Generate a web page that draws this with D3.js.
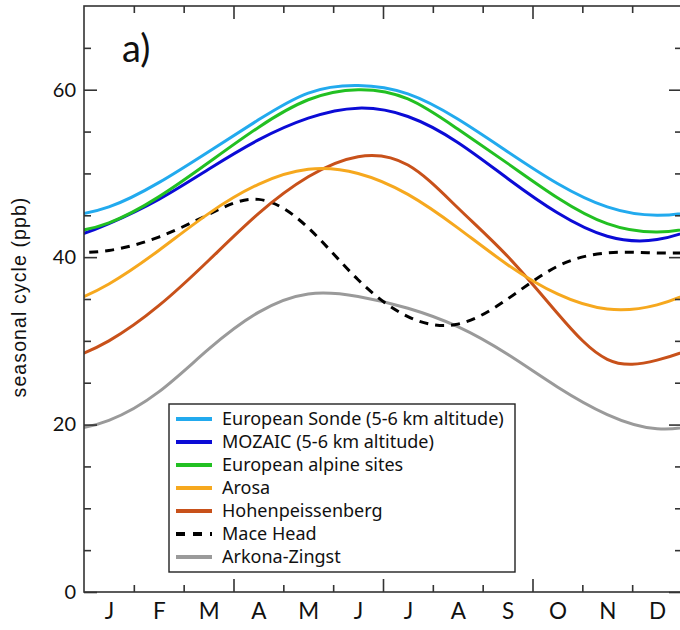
<!DOCTYPE html>
<html><head><meta charset="utf-8">
<script src="https://cdn.jsdelivr.net/npm/d3@7"></script>
<style>body{margin:0;background:#fff}svg{display:block}</style>
</head><body>
<svg id="c" width="680" height="630"></svg>
<script>
const months = ["J","F","M","A","M","J","J","A","S","O","N","D"];
const seriesNames = ["European Sonde (5-6 km altitude)","MOZAIC (5-6 km altitude)","European alpine sites","Arosa","Hohenpeissenberg","Mace Head","Arkona-Zingst"];
const sonde  = [46.0, 48.9, 52.6, 56.4, 59.6, 60.5, 59.5, 56.5, 52.6, 48.8, 46.0, 45.0];
const mozaic = [44.0, 46.9, 50.5, 54.0, 56.6, 57.8, 56.8, 53.7, 49.4, 45.3, 42.5, 42.1];
const alpine = [44.1, 47.2, 51.3, 55.5, 58.8, 60.0, 58.9, 55.3, 51.2, 47.1, 44.0, 43.0];
const arosa  = [36.8, 40.8, 45.2, 48.7, 50.5, 50.0, 47.5, 43.5, 39.1, 35.6, 33.8, 34.3];
const hohen  = [30.0, 34.2, 39.6, 45.2, 49.6, 52.0, 51.0, 45.9, 40.1, 33.3, 27.8, 27.7];
const mace   = [40.8, 42.4, 45.1, 46.9, 43.5, 37.3, 32.9, 32.0, 35.0, 38.9, 40.5, 40.5];
const arkona = [20.5, 23.9, 29.0, 33.4, 35.6, 35.3, 33.9, 31.7, 28.4, 24.5, 21.2, 19.5];
const yMajor = [0, 20, 40, 60];
const yMinor = [5, 10, 15, 25, 30, 35, 45, 50, 55, 65];
const xMajor = [3, 6, 9];
const xMinor = [1, 2, 4, 5, 7, 8, 10, 11];

const colors = ["#22aaee", "#0b0bd6", "#22c022", "#f6a81e", "#c8511a", "#000000", "#9a9a9a"];
const data = [sonde, mozaic, alpine, arosa, hohen, mace, arkona];

const svg = d3.select("#c");
const L = 84, R = 682, T = 6, B = 592;
const x = d3.scaleLinear().domain([0, 12]).range([L, R]);
const y = d3.scaleLinear().domain([0, 70]).range([B, T]);
const font = "Lato, 'Noto Sans', sans-serif";
const lfont = "'Noto Sans', Lato, sans-serif";

svg.append("defs").append("clipPath").attr("id", "clip")
  .append("rect").attr("x", L).attr("y", T).attr("width", R - L).attr("height", B - T);

// curves
const line = d3.line().x(d => x(d[0])).y(d => y(d[1])).curve(d3.curveNatural);
const order = [6, 5, 4, 3, 1, 2, 0];
const gL = svg.append("g").attr("clip-path", "url(#clip)");
order.forEach(k => {
  const vals = data[k];
  const pts = d3.range(-2, 14).map(i => [i + 0.5, vals[(i + 12) % 12]]);
  gL.append("path").attr("d", line(pts)).attr("fill", "none")
    .attr("stroke", colors[k]).attr("stroke-width", 3)
    .attr("stroke-dasharray", k === 5 ? "9,7" : null);
});

// frame
svg.append("rect").attr("x", L).attr("y", T).attr("width", R - L).attr("height", B - T)
  .attr("fill", "none").attr("stroke", "#333").attr("stroke-width", 1.6);

function styleAxis(g) {
  g.select(".domain").remove();
  g.selectAll(".tick line").attr("stroke", "#333").attr("stroke-width", 1.6);
  g.selectAll("text").attr("font-family", font).attr("fill", "#111");
}
// y axes
svg.append("g").attr("transform", `translate(${L},0)`)
  .call(d3.axisLeft(y).tickValues(yMajor).tickSize(-13).tickPadding(8).tickFormat(d3.format("d")))
  .call(styleAxis).selectAll("text").attr("font-size", 20);
svg.append("g").attr("transform", `translate(${L},0)`)
  .call(d3.axisLeft(y).tickValues(yMinor).tickSize(-7).tickFormat(""))
  .call(styleAxis);
svg.append("g").attr("transform", `translate(${R},0)`)
  .call(d3.axisRight(y).tickValues(yMajor).tickSize(-13).tickFormat(""))
  .call(styleAxis);
svg.append("g").attr("transform", `translate(${R},0)`)
  .call(d3.axisRight(y).tickValues(yMinor).tickSize(-7).tickFormat(""))
  .call(styleAxis);
// x axes ticks
[[d3.axisBottom, B], [d3.axisTop, T]].forEach(([ax, pos]) => {
  svg.append("g").attr("transform", `translate(0,${pos})`)
    .call(ax(x).tickValues(xMajor).tickSize(-13).tickFormat("")).call(styleAxis);
  svg.append("g").attr("transform", `translate(0,${pos})`)
    .call(ax(x).tickValues(xMinor).tickSize(-7).tickFormat("")).call(styleAxis);
});
// month labels
svg.append("g").attr("transform", `translate(0,${B})`)
  .call(d3.axisBottom(x).tickValues(d3.range(12).map(i => i + 0.5)).tickSize(0).tickPadding(11)
    .tickFormat((d, i) => months[i]))
  .call(styleAxis).selectAll("text").attr("font-size", 22.5);

// y title
svg.append("text").attr("transform", "translate(26,297) rotate(-90)")
  .attr("text-anchor", "middle").attr("font-family", "'Liberation Sans', Arial, sans-serif")
  .attr("font-size", 19.5).attr("letter-spacing", 1.1).attr("fill", "#111").text("seasonal cycle (ppb)");

// panel label
svg.append("text").attr("x", 122).attr("y", 62).attr("font-family", font)
  .attr("font-size", 38).attr("fill", "#111").text("a)");

// legend
const lg = svg.append("g");
lg.append("rect").attr("x", 169).attr("y", 404).attr("width", 346).attr("height", 168)
  .attr("fill", "#fff").attr("stroke", "#222").attr("stroke-width", 1.4);
seriesNames.forEach((nm, i) => {
  const yy = 419 + i * 23;
  lg.append("line").attr("x1", 176).attr("x2", 212).attr("y1", yy).attr("y2", yy)
    .attr("stroke", colors[i]).attr("stroke-width", 4)
    .attr("stroke-dasharray", i === 5 ? "9,8" : null);
  lg.append("text").attr("x", 222).attr("y", yy).attr("dy", "0.35em")
    .attr("font-family", lfont).attr("font-size", 18).attr("fill", "#111").text(nm);
});
</script>
</body></html>
